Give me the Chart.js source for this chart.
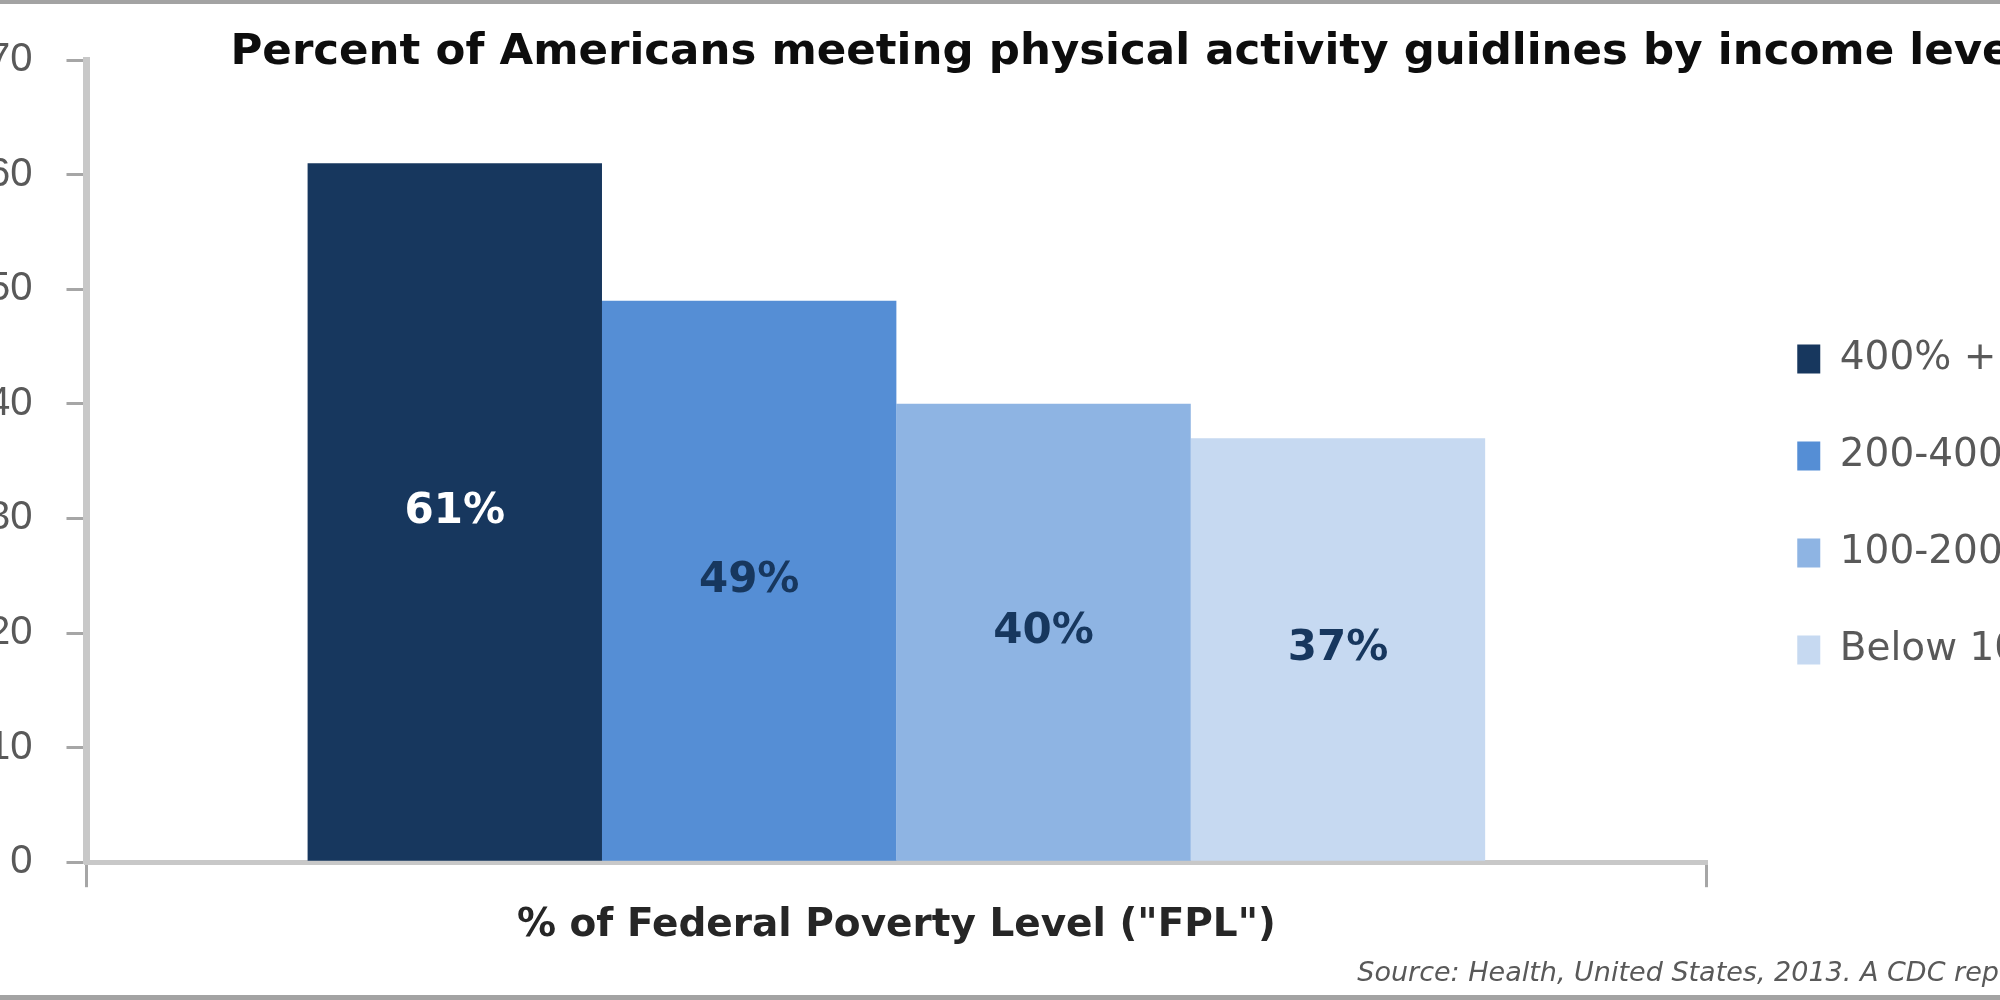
<!DOCTYPE html>
<html>
<head>
<meta charset="utf-8">
<title>Physical activity by income level</title>
<script src="https://cdn.jsdelivr.net/npm/chart.js"></script>
<style>
  body { margin: 0; background: #fff; }
  #wrap { position: relative; width: 2000px; height: 1000px; overflow: hidden; background: #fff; }
  #mycanvas { position: absolute; left: -46px; top: 0; }
  .frame { position: absolute; left: 0; width: 2000px; background: #a3a3a3; }
</style>
</head>
<body>
<div id="wrap">
  <canvas id="mycanvas" width="2137" height="1000"></canvas>
  <div class="frame" style="top:0;height:4px"></div>
  <div class="frame" style="bottom:0;height:5px"></div>
</div>
<script>
var chartTitle = 'Percent of Americans meeting physical activity guidlines by income level';
var axisTitle = '% of Federal Poverty Level ("FPL")';
var sourceNote = 'Source: Health, United States, 2013. A CDC report';
var categories = [''];
var incomeGroups = ['400% +', '200-400%', '100-200%', 'Below 100%'];
var percentMeeting = [61, 49, 40, 37];
var barColors = ['#17375e', '#558ed5', '#8eb4e3', '#c6d9f1'];
var labelColors = ['#ffffff', '#17375e', '#17375e', '#17375e'];
var yTicks = [0, 10, 20, 30, 40, 50, 60, 70];

Chart.defaults.font.family = '"DejaVu Sans"';

// bar value labels, the title and the source line
var extraText = {
  id: 'extraText',
  afterDatasetsDraw: function(chart) {
    var ctx = chart.ctx;
    var area = chart.chartArea;
    ctx.save();
    ctx.font = 'bold 42px "DejaVu Sans"';
    ctx.textAlign = 'center';
    ctx.textBaseline = 'middle';
    chart.data.datasets.forEach(function(ds, i) {
      var bar = chart.getDatasetMeta(i).data[0];
      ctx.fillStyle = labelColors[i];
      ctx.fillText(ds.data[0] + '%', bar.x, (bar.y + bar.base) / 2);
    });

    ctx.textAlign = 'left';
    ctx.font = 'bold 43.5px "DejaVu Sans"';
    ctx.fillStyle = '#0d0d0d';
    ctx.fillText(chartTitle, area.left + 144, area.top - 7);

    ctx.font = 'italic 27px "DejaVu Sans"';
    ctx.fillStyle = '#595959';
    ctx.fillText(sourceNote, area.right - 349, chart.scales.x.bottom + 25);
    ctx.restore();
  }
};

var datasets = [];
for (var i in incomeGroups) {
  datasets.push({
    label: incomeGroups[i],
    data: [percentMeeting[i]],
    backgroundColor: barColors[i],
    borderWidth: 0,
    categoryPercentage: 0.727,
    barPercentage: 1
  });
}

var ctx = document.getElementById('mycanvas');
var barGraph = new Chart(ctx, {
  type: 'bar',
  data: { labels: categories, datasets: datasets },
  plugins: [extraText],
  options: {
    responsive: false,
    animation: false,
    devicePixelRatio: 1,
    layout: { padding: { top: 60, bottom: 51, left: 0, right: 0 } },
    plugins: {
      title: { display: false },
      tooltip: { enabled: false },
      legend: {
        position: 'right',
        labels: {
          boxWidth: 23,
          boxHeight: 29,
          padding: 58,
          color: '#595959',
          font: { size: 39 }
        }
      }
    },
    scales: {
      x: {
        grid: { drawOnChartArea: false, tickLength: 25, color: '#a6a6a6', lineWidth: 3 },
        border: { color: '#c8c8c8', width: 5 },
        ticks: { display: false },
        title: {
          display: true,
          text: axisTitle,
          color: '#262626',
          font: { size: 39, weight: 'bold' },
          padding: { top: 15, bottom: 0 }
        }
      },
      y: {
        min: yTicks[0],
        max: yTicks[yTicks.length - 1],
        grid: { drawOnChartArea: false, tickLength: 20, color: '#a6a6a6', lineWidth: 3 },
        border: { color: '#c8c8c8', width: 7 },
        ticks: {
          stepSize: yTicks[1] - yTicks[0],
          padding: 34,
          color: '#595959',
          font: { family: '"Liberation Sans"', size: 40 }
        }
      },
      gap: {
        type: 'linear',
        position: 'right',
        grid: { display: false },
        border: { display: false },
        ticks: { display: false },
        afterFit: function(scale) { scale.width = 33; }
      }
    }
  }
});
</script>
</body>
</html>
